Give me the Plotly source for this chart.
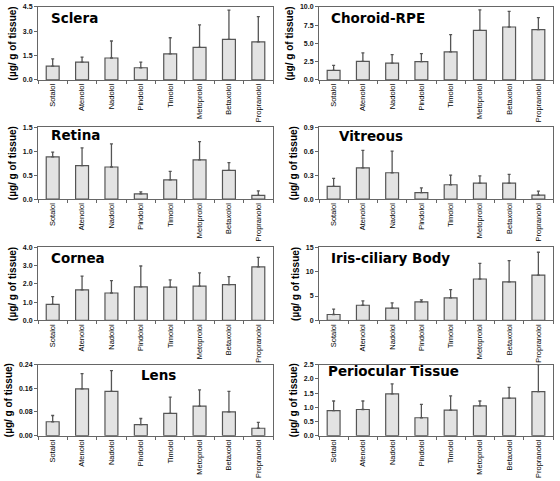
import plotly.graph_objects as go
from plotly.subplots import make_subplots

drugs = ["Sotalol", "Atenolol", "Nadolol", "Pindolol", "Timolol", "Metoprolol", "Betaxolol", "Propranolol"]

sclera_mean = [0.85, 1.10, 1.35, 0.75, 1.60, 2.00, 2.50, 2.35]
sclera_top = [1.30, 1.40, 2.40, 1.10, 2.60, 3.40, 4.30, 3.90]

choroid_mean = [1.30, 2.55, 2.30, 2.50, 3.85, 6.80, 7.25, 6.90]
choroid_top = [2.00, 3.70, 3.45, 3.60, 6.20, 9.60, 9.40, 8.55]

retina_mean = [0.88, 0.70, 0.67, 0.11, 0.40, 0.82, 0.60, 0.08]
retina_top = [0.98, 1.07, 1.15, 0.15, 0.58, 1.20, 0.76, 0.17]

vitreous_mean = [0.16, 0.39, 0.33, 0.08, 0.18, 0.20, 0.20, 0.05]
vitreous_top = [0.26, 0.61, 0.60, 0.14, 0.30, 0.29, 0.31, 0.10]

cornea_mean = [0.88, 1.67, 1.50, 1.83, 1.82, 1.88, 1.96, 2.93]
cornea_top = [1.30, 2.42, 2.18, 2.98, 2.22, 2.60, 2.40, 3.45]

iris_mean = [1.2, 3.1, 2.5, 3.8, 4.6, 8.5, 7.9, 9.3]
iris_top = [2.3, 4.0, 3.6, 4.2, 6.3, 11.7, 12.3, 14.0]

lens_mean = [0.047, 0.158, 0.150, 0.037, 0.075, 0.100, 0.080, 0.025]
lens_top = [0.068, 0.210, 0.220, 0.058, 0.130, 0.155, 0.150, 0.045]

periocular_mean = [0.88, 0.92, 1.47, 0.63, 0.90, 1.05, 1.32, 1.55]
periocular_top = [1.22, 1.22, 1.82, 1.10, 1.40, 1.22, 1.70, 2.50]

panel_titles = ["Sclera", "Choroid-RPE", "Retina", "Vitreous", "Cornea",
                "Iris-ciliary Body", "Lens", "Periocular Tissue"]
panel_means = [sclera_mean, choroid_mean, retina_mean, vitreous_mean,
               cornea_mean, iris_mean, lens_mean, periocular_mean]
panel_tops = [sclera_top, choroid_top, retina_top, vitreous_top,
              cornea_top, iris_top, lens_top, periocular_top]
y_ranges = [[0, 4.5], [0, 10], [0, 1.5], [0, 0.9], [0, 4], [0, 15], [0, 0.24], [0, 2.5]]
y_dticks = [1.5, 2.5, 0.5, 0.3, 1.0, 5, 0.08, 0.5]
y_formats = [".1f", ".1f", ".1f", ".1f", ".1f", "d", ".2f", ".1f"]
y_label = "(µg/ g of tissue)"

W, H = 560, 481
x_doms = [[38 / W, 273 / W], [319 / W, 553 / W]]
row_px = [(3, 77), (125, 198), (247, 321), (366, 438)]
y_doms = [[1 - b / H, 1 - t / H] for t, b in row_px]
title_pos = [(49, 14), (329, 14), (49, 133), (337, 134), (49, 258), (329, 258), (158, 376), (326, 372)]
title_anchor = ["left", "left", "left", "left", "left", "left", "center", "left"]

fig = make_subplots(rows=4, cols=2)
FONT = "Liberation Sans, Arial, sans-serif"

for i in range(8):
    r, c = i // 2 + 1, i % 2 + 1
    mean = panel_means[i]
    err = [t - m for t, m in zip(panel_tops[i], mean)]
    fig.add_trace(go.Bar(
        x=drugs, y=mean, width=0.44,
        marker=dict(color="#e3e3e3", line=dict(color="#555555", width=1.2)),
        error_y=dict(type="data", array=err, arrayminus=[0] * 8, symmetric=False,
                     color="#555555", thickness=1.3, width=1.5),
        showlegend=False), row=r, col=c)
    fig.update_xaxes(row=r, col=c, domain=x_doms[c - 1], tickangle=-90,
                     tickfont=dict(family=FONT, size=7.5, color="#000"),
                     showline=True, linecolor="#666", linewidth=1, mirror=True,
                     ticks="outside", tickson="boundaries", ticklen=3, tickcolor="#666",
                     showgrid=False)
    fig.update_yaxes(row=r, col=c, domain=y_doms[r - 1], range=y_ranges[i],
                     dtick=y_dticks[i], tick0=0, tickformat=y_formats[i],
                     tickfont=dict(family=FONT, size=7, color="#111", weight="bold"),
                     showline=True, linecolor="#666", linewidth=1, mirror=True,
                     ticks="outside", ticklen=3, tickcolor="#666",
                     showgrid=False, zeroline=False,
                     title=dict(text=y_label, standoff=4,
                                font=dict(family=FONT, size=10, color="#000", weight="bold")))
    tx, ty = title_pos[i]
    fig.add_annotation(x=tx / W, y=1 - ty / H, xref="paper", yref="paper",
                       text=panel_titles[i], showarrow=False,
                       xanchor=title_anchor[i], yanchor="middle",
                       font=dict(family="DejaVu Sans, sans-serif", size=13.5, color="#000", weight="bold"))

fig.update_layout(width=W, height=H, margin=dict(l=0, r=0, t=0, b=0),
                  plot_bgcolor="white", paper_bgcolor="white", bargap=0.5)
fig.write_html("out.html", config={"displayModeBar": False},
               post_script="document.body.style.margin='0';document.body.style.overflow='hidden';")
